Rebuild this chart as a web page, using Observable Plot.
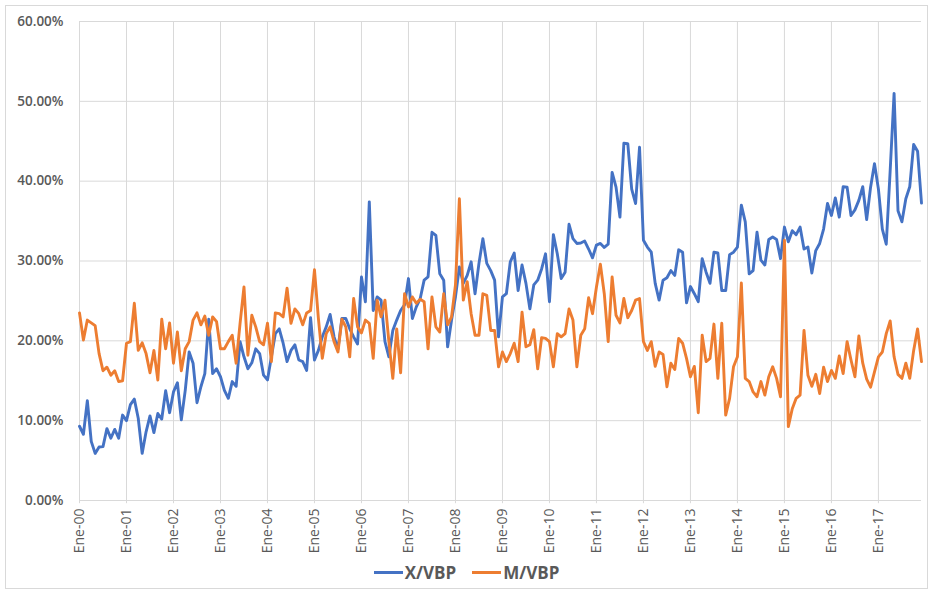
<!DOCTYPE html>
<html>
<head>
<meta charset="utf-8">
<script src="https://cdn.jsdelivr.net/npm/d3@7"></script>
<script src="https://cdn.jsdelivr.net/npm/@observablehq/plot@0.6"></script>
<style>
  body { margin: 0; background: #fff; }
  #chart { position: relative; width: 933px; height: 593px; font-family: "Open Sans", sans-serif; overflow: hidden; }
  #frame { position: absolute; left: 5px; top: 5px; width: 923px; height: 584px; border: 1px solid #d9d9d9; box-sizing: border-box; pointer-events: none; }
  #plot { position: absolute; left: 0; top: 0; }
  #legend { position: absolute; left: 0; top: 561px; width: 933px; display: flex; justify-content: center; align-items: center; color: #595959; font-weight: 700; font-size: 17px; }
  .item { display: flex; align-items: center; margin: 0 8px; }
  .swatch { width: 29px; height: 3px; margin-right: 2px; }
</style>
</head>
<body>
<div id="chart">
  <div id="frame"></div>
  <div id="plot"></div>
  <div id="legend"></div>
</div>
<script>
// Year tick labels (Excel "mmm-yy" in Spanish)
const yearLabels = ["Ene-00","Ene-01","Ene-02","Ene-03","Ene-04","Ene-05","Ene-06","Ene-07","Ene-08",
                    "Ene-09","Ene-10","Ene-11","Ene-12","Ene-13","Ene-14","Ene-15","Ene-16","Ene-17"];
const seriesNames = ["X/VBP", "M/VBP"];
const seriesColors = ["#4472C4", "#ED7D31"];
const yTicks = [0, 0.1, 0.2, 0.3, 0.4, 0.5, 0.6];

// X/VBP monthly, Jan 2000 - Dec 2017 (%)
const xvbp = [
  9.3, 8.3, 12.5, 7.4, 5.9, 6.7, 6.75, 9.0, 7.8, 8.9, 7.8, 10.7,
  10.0, 12.0, 12.7, 10.3, 5.9, 8.6, 10.6, 8.5, 10.9, 10.2, 13.75, 11.0,
  13.6, 14.75, 10.1, 13.8, 18.6, 17.2, 12.25, 14.25, 15.9, 22.7, 15.9, 16.5,
  15.5, 13.8, 12.8, 14.9, 14.3, 19.9, 18.0, 16.5, 17.25, 19.0, 18.4, 15.7,
  15.1, 18.0, 20.9, 21.5, 19.7, 17.4, 18.8, 19.5, 17.6, 17.4, 16.3, 22.9,
  17.6, 18.8, 20.5, 21.75, 23.3, 20.5, 19.0, 22.8, 22.8, 21.5, 20.5, 19.6,
  28.0, 24.9, 37.4, 23.8, 25.5, 25.1, 19.9, 18.0, 21.3, 22.6, 23.8, 24.5,
  27.8, 22.8, 24.25, 25.3, 27.6, 28.0, 33.6, 33.2, 28.4, 27.6, 19.25, 22.6,
  25.5, 29.25, 27.2, 28.2, 29.9, 25.9, 29.7, 32.8, 29.7, 28.8, 27.6, 20.5,
  25.5, 25.9, 29.9, 31.0, 26.3, 29.5, 27.2, 24.0, 27.0, 27.6, 29.0, 30.9,
  24.9, 33.3, 30.9, 27.8, 28.6, 34.6, 32.8, 32.2, 32.25, 32.5, 31.5, 30.4,
  32.0, 32.2, 31.7, 32.1, 41.1, 39.25, 35.5, 44.75, 44.7, 39.0, 37.2, 44.25,
  32.6, 31.75, 31.1, 27.2, 25.1, 27.6, 27.9, 28.8, 28.2, 31.4, 31.1, 24.75,
  26.8, 25.9, 24.9, 30.3, 28.6, 27.2, 31.1, 31.0, 26.3, 26.3, 30.8, 31.1,
  31.75, 37.0, 34.9, 28.4, 28.8, 33.6, 30.1, 29.5, 32.7, 33.0, 32.7, 30.3,
  34.25, 32.4, 33.8, 33.3, 34.25, 31.5, 31.75, 28.5, 31.3, 32.2, 34.0, 37.2,
  35.7, 37.9, 35.5, 39.3, 39.25, 35.7, 36.4, 37.6, 39.3, 35.2, 39.25, 42.2,
  39.0, 34.0, 32.1, 41.3, 51.0, 36.3, 34.9, 37.8, 39.3, 44.6, 43.75, 37.25
];

// M/VBP monthly, Jan 2000 - Dec 2017 (%)
const mvbp = [
  23.5, 20.1, 22.6, 22.25, 21.9, 18.4, 16.25, 16.7, 15.7, 16.25, 14.9, 15.0,
  19.7, 19.9, 24.7, 18.8, 19.75, 18.4, 16.0, 18.8, 15.1, 22.7, 19.0, 22.25,
  17.2, 21.1, 16.25, 19.0, 19.9, 22.6, 23.5, 22.0, 23.1, 20.7, 23.0, 22.4,
  19.0, 19.0, 19.9, 20.7, 17.2, 22.2, 26.75, 18.2, 23.2, 21.75, 19.9, 19.5,
  22.2, 17.4, 23.5, 23.4, 23.0, 26.6, 22.2, 24.0, 23.4, 22.0, 23.5, 23.8,
  28.9, 22.8, 17.8, 20.9, 21.75, 19.9, 18.6, 22.7, 21.75, 18.0, 25.3, 21.75,
  21.0, 22.6, 22.2, 17.8, 25.1, 23.0, 25.1, 19.9, 15.3, 21.5, 16.0, 25.9,
  24.25, 25.5, 24.7, 25.2, 24.9, 19.0, 25.5, 21.75, 21.1, 25.9, 22.0, 23.0,
  27.0, 37.8, 25.1, 27.4, 23.4, 20.7, 20.7, 25.9, 25.7, 21.3, 21.3, 16.75,
  18.6, 17.4, 18.4, 19.7, 17.4, 23.6, 19.25, 19.5, 21.4, 16.5, 20.4, 20.3,
  19.9, 16.75, 20.9, 20.5, 20.9, 24.0, 22.6, 16.75, 20.7, 21.5, 25.4, 23.4,
  26.75, 29.6, 25.9, 19.9, 28.0, 23.2, 22.25, 25.3, 22.9, 23.8, 25.1, 25.3,
  19.9, 18.8, 19.9, 16.8, 18.6, 18.3, 14.25, 17.2, 16.4, 20.3, 19.7, 17.8,
  15.5, 16.8, 11.0, 20.7, 17.4, 17.8, 22.1, 15.3, 22.2, 10.7, 12.8, 16.75,
  18.0, 27.25, 15.3, 14.9, 13.6, 13.0, 14.9, 13.2, 15.5, 16.75, 15.3, 13.0,
  32.6, 9.25, 11.5, 12.8, 13.2, 21.3, 15.7, 14.3, 15.8, 13.4, 16.7, 14.9,
  16.3, 15.3, 18.1, 15.9, 19.9, 17.6, 15.5, 20.6, 17.2, 15.2, 14.2, 16.1,
  18.0, 18.6, 20.9, 22.5, 18.0, 15.8, 15.3, 17.2, 15.3, 18.8, 21.5, 17.4
];

const yearIdx = yearLabels.map((_, i) => i * 12);
const rows = [];
[xvbp, mvbp].forEach((arr, s) => arr.forEach((v, i) => rows.push({ m: i, v: v / 100, s: seriesNames[s] })));

const chart = Plot.plot({
  width: 933,
  height: 555,
  marginLeft: 79,
  marginRight: 12,
  marginTop: 21,
  marginBottom: 55,
  style: { fontFamily: "'Open Sans', sans-serif", color: "#595959", background: "transparent" },
  x: { domain: [0, xvbp.length - 1], label: null },
  y: { domain: [0, 0.6], label: null },
  color: { domain: seriesNames, range: seriesColors },
  marks: [
    Plot.ruleY(yTicks, { y: d => d, stroke: "#d9d9d9", strokeWidth: 1 }),
    Plot.ruleX(yearIdx, { x: d => d, y1: -0.004, y2: 0.6, stroke: "#d9d9d9", strokeWidth: 1 }),
    Plot.axisY(yTicks, { tickFormat: d3.format(".2%"), tickSize: 0, tickPadding: 16, fontSize: 13.5, fontWeight: 600, label: null }),
    Plot.axisX(yearIdx, { tickFormat: (d, i) => yearLabels[i], tickRotate: -90, tickSize: 0, tickPadding: 8, fontSize: 14, label: null }),
    Plot.lineY(rows, { x: "m", y: "v", z: "s", stroke: "s", strokeWidth: 2.9, strokeLinejoin: "round", strokeLinecap: "round" })
  ]
});
document.getElementById("plot").appendChild(chart);

const legend = document.getElementById("legend");
seriesNames.forEach((name, i) => {
  const item = document.createElement("div");
  item.className = "item";
  const sw = document.createElement("span");
  sw.className = "swatch";
  sw.style.background = seriesColors[i];
  const label = document.createElement("span");
  label.textContent = name;
  item.appendChild(sw);
  item.appendChild(label);
  legend.appendChild(item);
});
</script>
</body>
</html>
